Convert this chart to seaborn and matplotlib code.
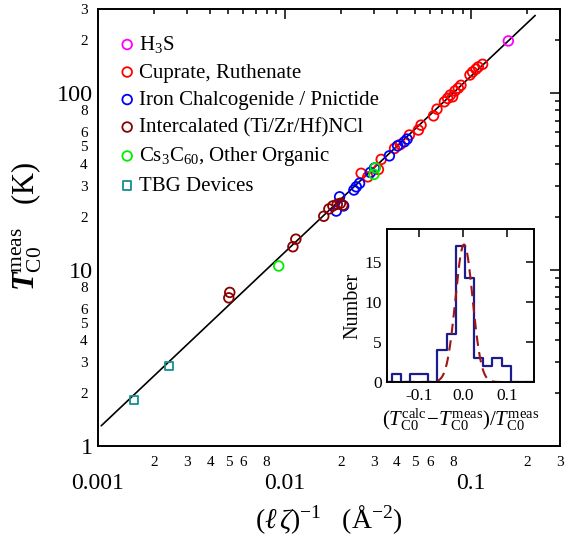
import numpy as np
import pandas as pd
import matplotlib
matplotlib.use("Agg")
import matplotlib.pyplot as plt
import matplotlib.ticker as mticker
import seaborn as sns

sns.set_theme(style="white")
plt.rcParams.update({
    "font.family": ["Liberation Serif", "DejaVu Serif"],
    "mathtext.fontset": "custom",
    "mathtext.rm": "Liberation Serif",
    "mathtext.it": "Liberation Serif:italic",
    "mathtext.bf": "Liberation Serif:bold",
    "mathtext.bfit": "Liberation Serif:italic:bold",
    "axes.unicode_minus": False,
    "text.color": "black",
    "axes.labelcolor": "black",
    "xtick.color": "black",
    "ytick.color": "black",
})

# ---------------- data ----------------
h3s_x = [0.158]
h3s_y = [198]

cuprate_x = [0.0257, 0.0279, 0.0318, 0.0329, 0.0388, 0.0417, 0.0466, 0.0521, 0.0538,
             0.0628, 0.0655, 0.0718, 0.0747, 0.0772, 0.0794, 0.0818, 0.0852, 0.0880,
             0.0984, 0.1016, 0.106, 0.109, 0.115]
cuprate_y = [35.2, 33.6, 37.0, 42.2, 48.7, 51.3, 58.0, 61.9, 66.0,
             74.5, 81.3, 89.5, 93.5, 97.7, 95.5, 103, 107, 111,
             127, 132, 137, 141, 146]

iron_x = [0.0197, 0.0189, 0.0207, 0.0235, 0.0242, 0.0252, 0.0288, 0.0303, 0.0364,
          0.0403, 0.0438, 0.0453]
iron_y = [25.9, 21.5, 23.0, 28.3, 29.5, 30.9, 35.6, 37.7, 44.2,
          50.4, 53.1, 55.0]

intercal_x = [0.00508, 0.00502, 0.01107, 0.01148, 0.0162, 0.01726, 0.01813, 0.01914,
              0.0199, 0.0205]
intercal_y = [7.44, 6.93, 13.5, 14.9, 20.1, 22.1, 23.0, 23.5, 23.8, 23.2]

organic_x = [0.00929, 0.0301, 0.0306]
organic_y = [10.5, 34.7, 37.8]

tbg_x = [0.00156, 0.00240]
tbg_y = [1.82, 2.84]

group_names = ["H$_3$S", "Cuprate, Ruthenate", "Iron Chalcogenide / Pnictide",
               "Intercalated (Ti/Zr/Hf)NCl", "Cs$_3$C$_{60}$, Other Organic", "TBG Devices"]
group_colors = ["#ff00ff", "#ff0000", "#0000ff", "#8b0000", "#00ee00", "#138f8f"]
group_markers = ["o", "o", "o", "o", "o", "s"]

# fit line  T = coeff * x
fit_coeff = 1255.0
fit_x_range = [0.00104, 0.22]

# inset histogram
hist_edges = [-0.172, -0.1614, -0.1402, -0.1197, -0.0985, -0.0780, -0.0576, -0.0364,
              -0.0159, 0.0053, 0.0258, 0.0470, 0.0674, 0.0886, 0.1091, 0.162]
hist_counts = [0, 1, 0, 1, 1, 0, 4, 6, 17, 13, 3, 2, 3, 2, 0]
gauss_amp = 17.2
gauss_mu = 0.003
gauss_sigma = 0.0195

# ---------------- figure ----------------
fig = plt.figure(figsize=(5.70, 5.35), dpi=100)
ax = fig.add_axes([0.172, 0.166, 0.811, 0.817])

fx = np.geomspace(fit_x_range[0], fit_x_range[1], 50)
sns.lineplot(x=fx, y=fit_coeff * fx, color="black", lw=1.2, ax=ax, zorder=1)

groups = [(h3s_x, h3s_y), (cuprate_x, cuprate_y), (iron_x, iron_y),
          (intercal_x, intercal_y), (organic_x, organic_y), (tbg_x, tbg_y)]
for (gx, gy), name, col, mk in zip(groups, group_names, group_colors, group_markers):
    sns.scatterplot(x=gx, y=gy, ax=ax, marker=mk, s=48 if mk == "o" else 36,
                    color=col, linewidth=1.3, label=name, zorder=3)
    coll = ax.collections[-1]
    coll.set_facecolor("none")
    coll.set_edgecolor(col)

ax.set_xscale("log")
ax.set_yscale("log")
ax.set_xlim(0.001, 0.3)
ax.set_ylim(1, 300)

# ticks
xmaj = [0.001, 0.01, 0.1]
xmin = [m * 10.0 ** e for e in (-3, -2, -1) for m in range(2, 10) if m * 10.0 ** e <= 0.3001]
ymaj = [1, 10, 100]
ymin = [m * 10.0 ** e for e in (0, 1, 2) for m in range(2, 10) if m * 10.0 ** e <= 300.01]

def minor_fmt(v, pos):
    lead = int(round(v / 10 ** np.floor(np.log10(v) + 1e-9)))
    return str(lead) if lead in (2, 3, 4, 5, 6, 8) else ""

ax.xaxis.set_major_locator(mticker.FixedLocator(xmaj))
ax.xaxis.set_major_formatter(mticker.FixedFormatter(["0.001", "0.01", "0.1"]))
ax.xaxis.set_minor_locator(mticker.FixedLocator(xmin))
ax.xaxis.set_minor_formatter(mticker.FuncFormatter(minor_fmt))
ax.yaxis.set_major_locator(mticker.FixedLocator(ymaj))
ax.yaxis.set_major_formatter(mticker.FixedFormatter(["1", "10", "100"]))
ax.yaxis.set_minor_locator(mticker.FixedLocator(ymin))
ax.yaxis.set_minor_formatter(mticker.FuncFormatter(minor_fmt))

ax.tick_params(which="both", direction="in", top=True, right=True, width=1.1, color="black")
ax.tick_params(which="major", length=7.5)
ax.tick_params(which="minor", length=3.8)
ax.tick_params(axis="x", which="major", labelsize=17, pad=19.5)
ax.tick_params(axis="x", which="minor", labelsize=11, pad=7)
ax.tick_params(axis="y", which="major", labelsize=17.5, pad=4)
ax.tick_params(axis="y", which="minor", labelsize=11, pad=7.5)
for sp in ax.spines.values():
    sp.set_color("black")
    sp.set_linewidth(1.4)

ax.set_xlabel(r"$(\ell\,\zeta)^{-1}$   (Å$^{-2}$)", fontsize=20)
ax.xaxis.label.set_va("center")
ax.xaxis.set_label_coords(0.5, -0.168)
ax.set_ylabel(r"$\mathbfit{T}_{\rm C0}^{\rm meas}$   (K)", fontsize=22)
ax.yaxis.label.set_va("center")
ax.yaxis.set_label_coords(-0.155, 0.503)

leg = ax.legend(loc="upper left", bbox_to_anchor=(0.045, 0.943), frameon=False,
                fontsize=15, handlelength=0.8, handletextpad=0.15,
                labelspacing=0.38, borderpad=0, borderaxespad=0, markerscale=1.0)

# ---------------- inset ----------------
ax2 = fig.add_axes([0.6795, 0.286, 0.2568, 0.2854])
edges = np.array(hist_edges)
hist_df = pd.DataFrame({"center": 0.5 * (edges[:-1] + edges[1:]),
                        "count": np.array(hist_counts, dtype=float)})
sns.histplot(data=hist_df, x="center", weights="count", bins=list(hist_edges),
             element="step", fill=False, color="#1c1c8e", linewidth=1.6, ax=ax2)
gx = np.linspace(-0.17, 0.16, 300)
sns.lineplot(x=gx, y=gauss_amp * np.exp(-0.5 * ((gx - gauss_mu) / gauss_sigma) ** 2),
             color="#a01515", lw=1.5, ax=ax2)
ax2.lines[-1].set_dashes((5, 3))
ax2.set_xlim(-0.171, 0.161)
ax2.set_ylim(0, 19.1)
ax2.xaxis.set_major_locator(mticker.FixedLocator([-0.1, 0.0, 0.1]))
ax2.xaxis.set_major_formatter(mticker.FixedFormatter(["-0.1", "0.0", "0.1"]))
ax2.yaxis.set_major_locator(mticker.FixedLocator([0, 5, 10, 15]))
ax2.tick_params(which="both", direction="in", top=True, right=True, length=5.5,
                width=1.1, labelsize=12.5, pad=4, color="black")
for sp in ax2.spines.values():
    sp.set_color("black")
    sp.set_linewidth(1.4)
ax2.set_ylabel("Number", fontsize=14.5)
ax2.yaxis.label.set_va("center")
ax2.yaxis.set_label_coords(-0.234, 0.5)
ax2.set_xlabel(r"$(T_{\rm C0}^{\rm calc}\!-\!T_{\rm C0}^{\rm meas})/T_{\rm C0}^{\rm meas}$",
               fontsize=15)
ax2.xaxis.label.set_va("center")
ax2.xaxis.set_label_coords(0.5, -0.25)

fig.savefig("out.png", dpi=100)
